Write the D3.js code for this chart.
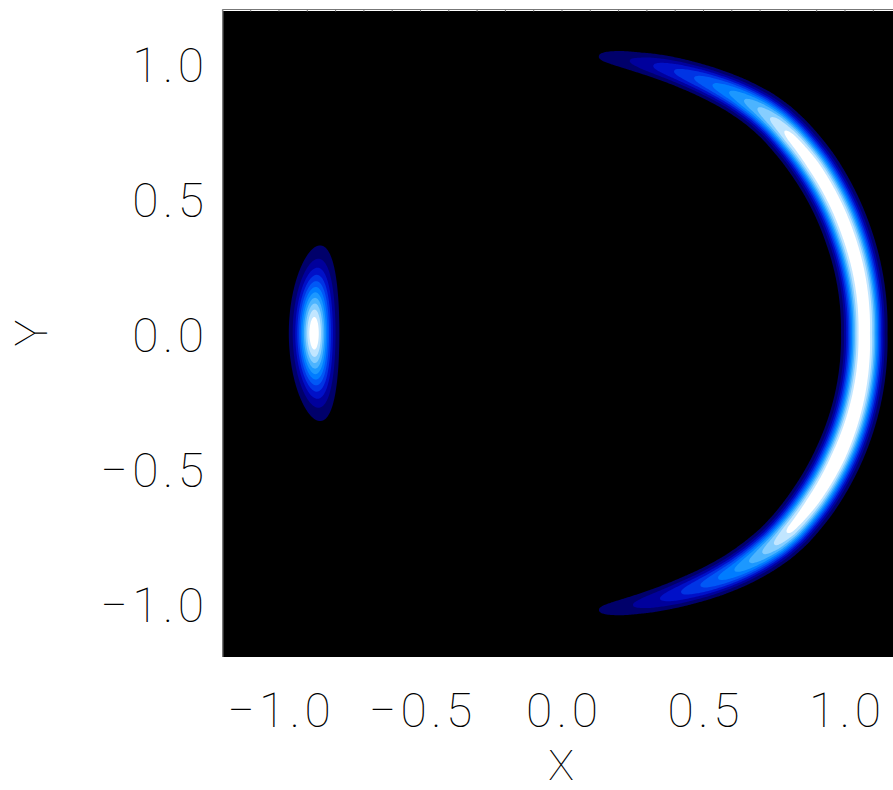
<!DOCTYPE html>
<html>
<head>
<meta charset="utf-8">
<script src="https://cdnjs.cloudflare.com/ajax/libs/d3/7.8.5/d3.min.js"></script>
<style>
  body { margin: 0; background: #fff; }
  text { font-family: Roboto, "DejaVu Sans", sans-serif; font-weight: 100; fill: #000; }
</style>
</head>
<body>
<svg id="chart" width="893" height="790"></svg>
<script>
// axis ticks
const xTicks = [-1.0, -0.5, 0.0, 0.5, 1.0];
const yTicks = [-1.0, -0.5, 0.0, 0.5, 1.0];
const minorTicks = d3.range(-12, 13).map(d => d / 10);

// filled contour levels and colours (black -> blue -> white)
const levels = [0.083, 0.167, 0.25, 0.333, 0.417, 0.5, 0.583, 0.667, 0.75, 0.833, 0.917];
const levelColors = ["#00006a", "#00009c", "#0010c8", "#0034e4", "#0058f6", "#007cff",
                     "#1c98ff", "#4cb4ff", "#86ceff", "#c2e6ff", "#ffffff"];

// crescent on the right, read along its polar angle (degrees)
const ringAngles = [-90, -83, -75, -70, -65, -60, -55, -50, -46, -42, -35, -25, 0, 20, 35, 42, 46, 50, 55, 60, 65, 70, 75, 83, 90];
const ringAmp    = [0, 0.08, 0.18, 0.26, 0.36, 0.47, 0.59, 0.72, 0.84, 0.94, 1.0, 1.04, 1.0, 1.01, 1.0, 0.95, 0.87, 0.76, 0.62, 0.5, 0.39, 0.29, 0.19, 0.08, 0];
const ringRadius = [1.03, 1.035, 1.04, 1.045, 1.052, 1.062, 1.072, 1.08, 1.085, 1.086, 1.083, 1.078, 1.068, 1.075, 1.084, 1.087, 1.088, 1.085, 1.076, 1.065, 1.055, 1.047, 1.04, 1.035, 1.03];
const ringWidth  = [0.026, 0.027, 0.03, 0.032, 0.034, 0.036, 0.038, 0.04, 0.041, 0.042, 0.043, 0.043, 0.042, 0.043, 0.043, 0.042, 0.041, 0.04, 0.038, 0.036, 0.034, 0.032, 0.03, 0.027, 0.026];
const ringShape = 2.4;

// small blob on the left
const blobX = -0.876;
const blobY = 0.0;
const blobAmp = 1.0;
const blobWidthX = 0.04;
const blobWidthY = 0.146;
const blobBend = 0.2;

const pLeft = 222.4, pRight = 901.6, pTop = 9.5, pBottom = 657;

const xScale = d3.scaleLinear().domain([-1.2, 1.2]).range([pLeft, pRight]);
const yScale = d3.scaleLinear().domain([-1.2, 1.2]).range([pBottom, pTop]);

const radiusAt = d3.scaleLinear().domain(ringAngles).range(ringRadius).clamp(true);
const ampAt = d3.scaleLinear().domain(ringAngles).range(ringAmp).clamp(true);
const widthAt = d3.scaleLinear().domain(ringAngles).range(ringWidth).clamp(true);

// grid
const n = 480;
const step = 2.4 / n;
const values = new Float64Array(n * n);
for (let j = 0; j < n; j++) {
  const y = -1.2 + (j + 0.5) * step;
  for (let i = 0; i < n; i++) {
    const x = -1.2 + (i + 0.5) * step;
    const r = Math.hypot(x, y);
    const a = Math.atan2(y, x) * 180 / Math.PI;
    let v = 0;
    if (Math.abs(a) < 90) {
      const dr = Math.abs(r - radiusAt(a)) / widthAt(a);
      v += ampAt(a) * Math.exp(-0.5 * Math.pow(dr, ringShape));
    }
    const bx = (x - (blobX + blobBend * (y - blobY) * (y - blobY))) / blobWidthX;
    const by = (y - blobY) / blobWidthY;
    v += blobAmp * Math.exp(-0.5 * (bx * bx + by * by));
    values[i + j * n] = v;
  }
}

const contours = d3.contours().size([n, n]).thresholds(levels)(values);

const proj = d3.geoTransform({
  point: function (px, py) {
    this.stream.point(xScale(-1.2 + px * step), yScale(-1.2 + py * step));
  }
});
const path = d3.geoPath(proj);

const svg = d3.select("#chart");

svg.append("defs").append("clipPath").attr("id", "plotclip")
   .append("rect")
   .attr("x", pLeft).attr("y", pTop + 1.5)
   .attr("width", pRight - pLeft).attr("height", pBottom - pTop - 1.5);

svg.append("rect")
   .attr("x", pLeft).attr("y", pTop + 1.5)
   .attr("width", pRight - pLeft).attr("height", pBottom - pTop - 1.5)
   .attr("fill", "#000");

svg.append("g")
   .attr("clip-path", "url(#plotclip)")
   .selectAll("path")
   .data(contours)
   .enter()
   .append("path")
   .attr("d", path)
   .attr("fill", (d, i) => levelColors[i]);

// top axis with minor ticks
svg.append("line")
   .attr("x1", pLeft).attr("x2", pRight)
   .attr("y1", pTop).attr("y2", pTop)
   .attr("stroke", "#777").attr("stroke-width", 1);

svg.selectAll(".mtick")
   .data(minorTicks)
   .enter()
   .append("line")
   .attr("x1", d => xScale(d)).attr("x2", d => xScale(d))
   .attr("y1", pTop).attr("y2", pTop + 2)
   .attr("stroke", "#777").attr("stroke-width", 1);

// left axis line
svg.append("line")
   .attr("x1", pLeft + 0.5).attr("x2", pLeft + 0.5)
   .attr("y1", pTop).attr("y2", pBottom)
   .attr("stroke", "#888").attr("stroke-width", 1);

// tick labels
const fmt = d => (d < 0 ? "\u2212" : "") + Math.abs(d).toFixed(1);
const ls = 4.5;

svg.selectAll(".xlab")
   .data(xTicks)
   .enter()
   .append("text")
   .attr("x", d => xScale(d))
   .attr("y", 727)
   .attr("dx", ls / 2)
   .attr("text-anchor", "middle")
   .attr("font-size", 48)
   .attr("letter-spacing", ls)
   .text(fmt);

svg.selectAll(".ylab")
   .data(yTicks)
   .enter()
   .append("text")
   .attr("x", 204)
   .attr("y", d => yScale(d) + 19)
   .attr("dx", ls)
   .attr("text-anchor", "end")
   .attr("font-size", 48)
   .attr("letter-spacing", ls)
   .text(fmt);

svg.append("text")
   .attr("x", 561).attr("y", 780)
   .attr("text-anchor", "middle")
   .attr("font-size", 43)
   .text("X");

svg.append("text")
   .attr("transform", "translate(47,333) rotate(-90)")
   .attr("text-anchor", "middle")
   .attr("font-size", 45)
   .text("Y");
</script>
</body>
</html>
